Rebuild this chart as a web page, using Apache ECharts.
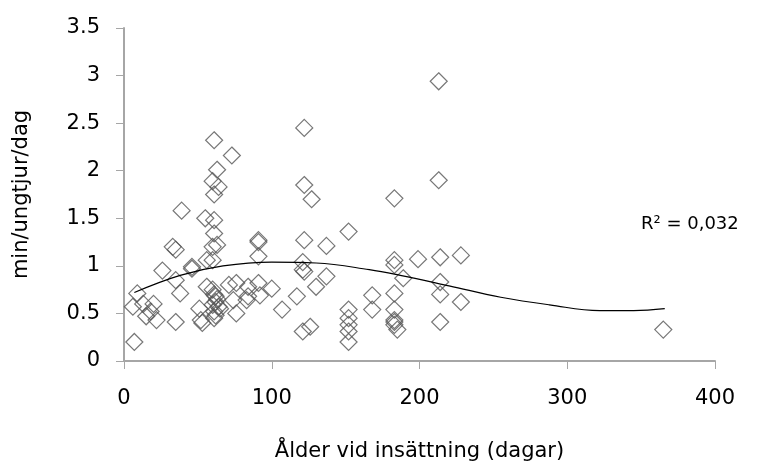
<!DOCTYPE html>
<html>
<head>
<meta charset="utf-8">
<script src="https://cdn.jsdelivr.net/npm/echarts@6/dist/echarts.min.js"></script>
<style>
  html, body { margin: 0; padding: 0; background: #fff; }
  #main { width: 759px; height: 466px; }
</style>
</head>
<body>
<div id="main"></div>
<script>
// observationer: [ålder (dagar), min/ungtjur/dag]
var obsLeft = [
  [7, 0.20], [9, 0.71], [6, 0.57], [13, 0.60], [15, 0.47], [20, 0.60], [22, 0.43], [18, 0.52],
  [26, 0.95], [35, 0.41], [39, 1.58], [33, 1.20], [35, 1.17], [35, 0.85], [38, 0.71],
  [46, 0.97], [46, 0.99], [53, 0.40], [51, 0.55], [52, 0.43], [55, 1.50], [56, 1.06], [56, 0.78]
];
var obs60 = [
  [61, 2.32], [63, 2.01], [60, 1.89], [64, 1.83], [61, 1.75], [61, 1.48], [61, 1.34],
  [60, 1.20], [63, 1.22], [60, 1.06], [60, 0.75], [61, 0.70], [62, 0.68], [63, 0.65],
  [62, 0.62], [60, 0.59], [64, 0.57], [65, 0.55], [61, 0.52], [62, 0.48], [61, 0.45]
];
var obsMid = [
  [73, 2.16], [71, 0.80], [76, 0.82], [76, 0.50], [74, 0.64], [84, 0.78], [83, 0.64], [84, 0.68],
  [91, 0.82], [92, 0.69], [91, 1.27], [91, 1.25], [91, 1.10], [100, 0.76], [107, 0.54],
  [122, 2.45], [122, 1.85], [127, 1.70], [122, 1.27], [137, 1.21], [152, 1.36],
  [121, 1.04], [121, 0.96], [122, 0.94], [137, 0.89], [130, 0.78], [117, 0.68],
  [121, 0.31], [126, 0.36], [152, 0.54], [152, 0.45], [152, 0.38], [152, 0.31], [152, 0.20],
  [168, 0.69], [168, 0.54]
];
var obsRight = [
  [213, 2.94], [213, 1.90], [183, 1.71], [183, 1.06], [183, 1.01], [199, 1.07], [214, 1.09],
  [228, 1.11], [189, 0.87], [214, 0.83], [214, 0.70], [228, 0.62], [183, 0.71], [183, 0.54],
  [183, 0.43], [183, 0.41], [183, 0.38], [185, 0.33], [214, 0.41], [365, 0.33]
];
// trendlinje (polynom)
var trend = [
  [7, 0.72], [38, 0.90], [67, 1.00], [100, 1.04], [130, 1.03], [166, 0.96], [187, 0.90],
  [220, 0.79], [255, 0.67], [288, 0.59], [322, 0.53], [345, 0.53], [366, 0.55]
];
var xTicks = [0, 100, 200, 300, 400];
var yTicks = [0, 0.5, 1, 1.5, 2, 2.5, 3, 3.5];
var r2Text = 'R² = 0,032';

var myChart = echarts.init(document.getElementById('main'));
var font = '"DejaVu Sans", Verdana, sans-serif';
var axisGray = '#a6a6a6';

option = {
    animation: false,
    backgroundColor: '#fff',
    grid: { left: 124, right: 44, top: 28, bottom: 105, outerBoundsMode: 'none' },
    xAxis: {
        type: 'value',
        min: xTicks[0],
        max: xTicks[xTicks.length - 1],
        interval: 100,
        name: 'Ålder vid insättning (dagar)',
        nameLocation: 'middle',
        nameGap: 80,
        nameTextStyle: { fontFamily: font, fontSize: 21, color: '#000' },
        splitLine: { show: false },
        axisLine: { lineStyle: { color: axisGray, width: 2 } },
        axisTick: { show: true, length: 8, lineStyle: { color: axisGray } },
        axisLabel: { margin: 27, fontFamily: font, fontSize: 21, color: '#000' }
    },
    yAxis: {
        type: 'value',
        min: yTicks[0],
        max: yTicks[yTicks.length - 1],
        interval: 0.5,
        name: 'min/ungtjur/dag',
        nameLocation: 'middle',
        nameGap: 92,
        nameTextStyle: { fontFamily: font, fontSize: 21, color: '#000' },
        splitLine: { show: false },
        axisLine: { show: true, lineStyle: { color: axisGray, width: 2 } },
        axisTick: { show: true, length: 8, lineStyle: { color: axisGray } },
        axisLabel: { margin: 24, fontFamily: font, fontSize: 21, color: '#000' }
    },
    graphic: [{
        type: 'text',
        left: 641,
        top: 215,
        style: { text: r2Text, font: '18px ' + font, fill: '#000' }
    }],
    series: [{
        // punkter
        type: 'scatter',
        data: obsLeft.concat(obs60, obsMid, obsRight),
        symbol: 'diamond',
        symbolSize: [17, 17],
        itemStyle: { color: 'rgba(255,255,255,0)', borderColor: '#555', borderWidth: 1.2 },
        z: 3
    }, {
        // trendlinje
        type: 'line',
        data: trend,
        smooth: 0.4,
        showSymbol: false,
        lineStyle: { color: '#000', width: 1.2 },
        z: 4
    }]
};

myChart.setOption(option, true);
window.addEventListener("resize", function () {
    myChart.resize();
});
</script>
</body>
</html>
